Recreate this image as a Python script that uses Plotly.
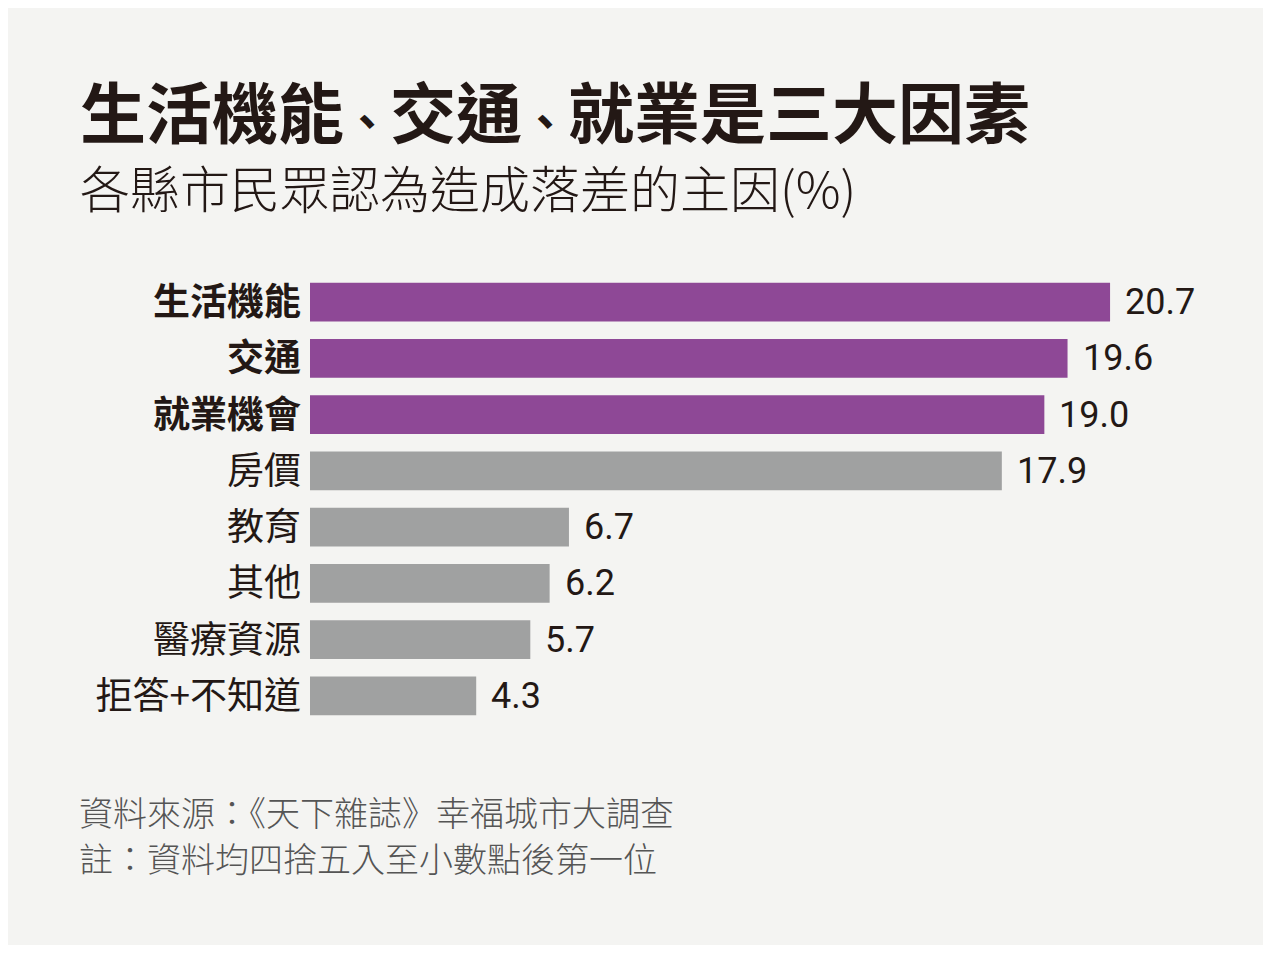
import plotly.graph_objects as go

# Data (top to bottom)
categories = ['生活機能', '交通', '就業機會', '房價', '教育', '其他', '醫療資源', '拒答+不知道']
values = [20.7, 19.6, 19.0, 17.9, 6.7, 6.2, 5.7, 4.3]
highlight = [True, True, True, False, False, False, False, False]

title_parts = ['生活機能', '交通', '就業是三大因素']
subtitle_text = '各縣市民眾認為造成落差的主因(%)'
source_lines = ['資料來源：《天下雜誌》幸福城市大調查', '註：資料均四捨五入至小數點後第一位']

PURPLE = '#8E4896'
GRAY = '#A0A1A1'
DARK = '#231815'
BG = '#F4F4F2'
CJK = 'Noto Sans CJK TC'

# page body adds 8px around the figure, so shrink and shift by that
OFF = 8
W, H = 1271 - 2 * OFF, 953 - 2 * OFF
L, T = 310 - OFF, 274 - OFF
R, B = 33 - OFF, 229 - OFF
plot_w = W - L - R
plot_h = H - T - B


def px_x(x):
    return (x - OFF - L) / plot_w


def px_y(y):
    return (H - B - (y - OFF)) / plot_h


colors = [PURPLE if h else GRAY for h in highlight]
ticktext = ['<b>%s</b>' % c if h else c for c, h in zip(categories, highlight)]

fig = go.Figure(go.Bar(
    x=values,
    y=categories,
    orientation='h',
    marker=dict(color=colors, line=dict(width=0)),
    hoverinfo='skip',
))

annotations = []
for c, v in zip(categories, values):
    annotations.append(dict(
        x=v, y=c, xref='x', yref='y', text='%.1f' % v,
        xanchor='left', yanchor='middle', xshift=13, showarrow=False,
        font=dict(family='Roboto', size=36, color=DARK),
    ))

# narrow enumeration comma like the original typesetting
comma = '<span style="font-size:46px">、</span>'
title_html = '<b>' + comma.join(title_parts) + '</b>'
annotations.append(dict(
    x=px_x(78), y=px_y(109), xref='paper', yref='paper', text=title_html,
    xanchor='left', yanchor='middle', showarrow=False,
    font=dict(family=CJK, size=66, color=DARK),
))
annotations.append(dict(
    x=px_x(78), y=px_y(186), xref='paper', yref='paper', text=subtitle_text,
    xanchor='left', yanchor='middle', showarrow=False,
    font=dict(family=CJK, size=50, color=DARK, weight=300),
))
for i, line in enumerate(source_lines):
    annotations.append(dict(
        x=px_x(78), y=px_y(811 + 46 * i), xref='paper', yref='paper', text=line,
        xanchor='left', yanchor='middle', showarrow=False, borderpad=0,
        font=dict(family=CJK, size=34, color='#555555', weight=300),
    ))

fig.update_layout(
    width=W, height=H,
    margin=dict(l=L, r=R, t=T, b=B),
    paper_bgcolor=BG, plot_bgcolor=BG,
    bargap=0.31,
    showlegend=False,
    annotations=annotations,
    xaxis=dict(range=[0, plot_w / 38.65], visible=False, fixedrange=True),
    yaxis=dict(
        autorange='reversed',
        tickmode='array', tickvals=categories, ticktext=ticktext,
        tickfont=dict(family=CJK, size=37, color=DARK),
        ticks='', showline=False, showgrid=False, zeroline=False,
        ticklabelstandoff=8, fixedrange=True,
    ),
)

fig.write_html('out.html')
